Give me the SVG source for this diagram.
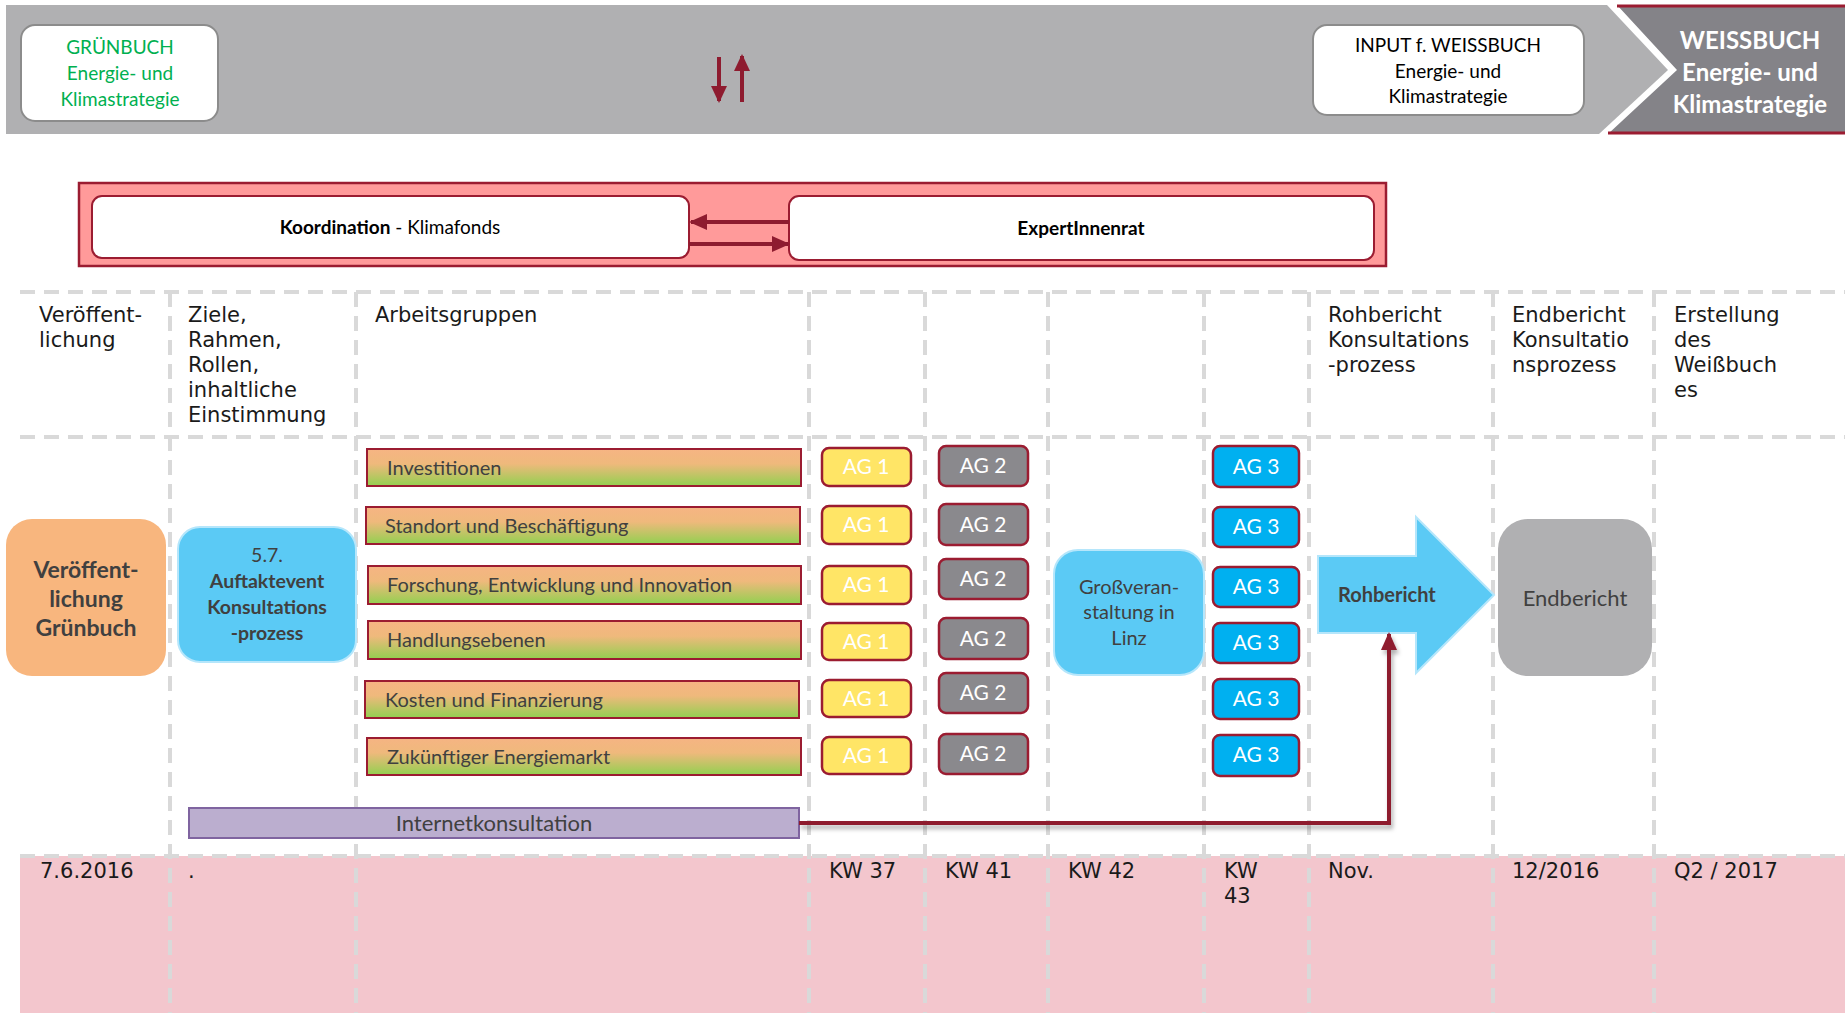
<svg xmlns="http://www.w3.org/2000/svg" width="1845" height="1013" viewBox="0 0 1845 1013">
<style>
.lato{font-family:Lato,"Open Sans","Liberation Sans",sans-serif}
.hdr{font-family:"DejaVu Sans","Liberation Sans",sans-serif;font-size:21px;fill:#1a1a1a}
.grid{stroke:#d9d9d9;stroke-width:4;stroke-dasharray:15 9;fill:none}
.bar{fill:url(#barGrad);stroke:#9b1c31;stroke-width:2}
.barTxt{font-family:Lato,"Liberation Sans",sans-serif;font-size:20px;fill:#404040}
.ag{stroke:#9b1c31;stroke-width:2.5}
.ag1{fill:#ffe566}
.ag2{fill:#8a898d}
.ag3{fill:#00b0f0}
.agTxt{font-family:Lato,"Liberation Sans",sans-serif;font-size:21px;fill:#ffffff;text-anchor:middle}
.conn{stroke:#8e1b2f;stroke-width:4;fill:none}
.lblue{fill:#5bcaf5;stroke:#b5e6fb;stroke-width:2}
.dark{font-family:Lato,"Liberation Sans",sans-serif;fill:#404040;text-anchor:middle}
</style>
<defs>
<linearGradient id="barGrad" x1="0" y1="0" x2="0" y2="1">
<stop offset="0" stop-color="#f6b483"/>
<stop offset="0.4" stop-color="#efb97c"/>
<stop offset="1" stop-color="#92d050"/>
</linearGradient>
<marker id="ah" markerUnits="userSpaceOnUse" markerWidth="18" markerHeight="16" refX="16" refY="8" orient="auto">
<path d="M0,0 L18,8 L0,16 Z" fill="#8e1b2f"/>
</marker>
<marker id="ahs" markerUnits="userSpaceOnUse" markerWidth="17" markerHeight="16" refX="15" refY="8" orient="auto">
<path d="M0,0 L17,8 L0,16 Z" fill="#8e1b2f"/>
</marker>
<filter id="sh" x="-5%" y="-50%" width="110%" height="200%">
<feDropShadow dx="2" dy="4" stdDeviation="2" flood-color="#000" flood-opacity="0.3"/>
</filter>
</defs>

<!-- background bands -->
<rect x="0" y="0" width="1845" height="1013" fill="#ffffff"/>
<polygon points="6,5 1607,5 1668,70 1599,134 6,134" fill="#b0b0b2"/>
<rect x="20" y="856" width="1825" height="157" fill="#f3c6cd"/>

<!-- grid -->
<g id="grid">
<line class="grid" x1="20" y1="292" x2="1845" y2="292"/>
<line class="grid" x1="20" y1="437" x2="1845" y2="437"/>
<line class="grid" x1="20" y1="856" x2="1845" y2="856"/>
<line class="grid" x1="170" y1="292" x2="170" y2="1013"/>
<line class="grid" x1="356" y1="292" x2="356" y2="1013"/>
<line class="grid" x1="809" y1="292" x2="809" y2="1013"/>
<line class="grid" x1="925" y1="292" x2="925" y2="1013"/>
<line class="grid" x1="1048" y1="292" x2="1048" y2="1013"/>
<line class="grid" x1="1204" y1="292" x2="1204" y2="1013"/>
<line class="grid" x1="1309" y1="292" x2="1309" y2="1013"/>
<line class="grid" x1="1493" y1="292" x2="1493" y2="1013"/>
<line class="grid" x1="1654" y1="292" x2="1654" y2="1013"/>
</g>

<!-- header texts -->
<g id="headers" class="hdr">
<text x="39" y="322">Veröffent-</text>
<text x="39" y="347">lichung</text>
<text x="188" y="322">Ziele,</text>
<text x="188" y="347">Rahmen,</text>
<text x="188" y="372">Rollen,</text>
<text x="188" y="397">inhaltliche</text>
<text x="188" y="422">Einstimmung</text>
<text x="375" y="322">Arbeitsgruppen</text>
<text x="1328" y="322">Rohbericht</text>
<text x="1328" y="347">Konsultations</text>
<text x="1328" y="372">-prozess</text>
<text x="1512" y="322">Endbericht</text>
<text x="1512" y="347">Konsultatio</text>
<text x="1512" y="372">nsprozess</text>
<text x="1674" y="322">Erstellung</text>
<text x="1674" y="347">des</text>
<text x="1674" y="372">Weißbuch</text>
<text x="1674" y="397">es</text>
</g>

<!-- dates -->
<g id="dates" class="hdr">
<text x="40" y="878">7.6.2016</text>
<text x="188" y="878">.</text>
<text x="829" y="878">KW 37</text>
<text x="945" y="878">KW 41</text>
<text x="1068" y="878">KW 42</text>
<text x="1224" y="878">KW</text>
<text x="1224" y="903">43</text>
<text x="1328" y="878">Nov.</text>
<text x="1512" y="878">12/2016</text>
<text x="1674" y="878">Q2 / 2017</text>
</g>

<!-- top band nodes -->
<g id="gruenbuch">
<rect x="21" y="25" width="197" height="96" rx="14" fill="#ffffff" stroke="#8c8c8c" stroke-width="2"/>
<text class="lato" font-size="19" fill="#00b050" text-anchor="middle"><tspan x="120" y="54">GRÜNBUCH</tspan><tspan x="120" y="80">Energie- und</tspan><tspan x="120" y="106">Klimastrategie</tspan></text>
</g>
<g id="input-weissbuch">
<rect x="1313" y="25" width="271" height="90" rx="14" fill="#ffffff" stroke="#8c8c8c" stroke-width="2"/>
<text class="lato" font-size="19" fill="#000000" text-anchor="middle"><tspan x="1448" y="52">INPUT f. WEISSBUCH</tspan><tspan x="1448" y="78">Energie- und</tspan><tspan x="1448" y="103">Klimastrategie</tspan></text>
</g>
<g id="weissbuch">
<polygon points="1617,5 1845,5 1845,134 1608,134 1677,70" fill="#848388"/>
<line x1="1617" y1="6" x2="1845" y2="6" stroke="#9b1c31" stroke-width="3"/>
<line x1="1608" y1="133" x2="1845" y2="133" stroke="#9b1c31" stroke-width="3"/>
<text class="lato" font-size="24" font-weight="bold" fill="#ffffff" text-anchor="middle"><tspan x="1750" y="49">WEISSBUCH</tspan><tspan x="1750" y="81">Energie- und</tspan><tspan x="1750" y="113">Klimastrategie</tspan></text>
</g>

<!-- coordination -->
<g id="koordination-rahmen">
<rect x="79" y="183" width="1307" height="83" fill="#ff9a9a" stroke="#9b1c31" stroke-width="2.5"/>
</g>
<g id="koordination">
<rect x="92" y="196" width="597" height="62" rx="10" fill="#ffffff" stroke="#9b1c31" stroke-width="2"/>
<text class="lato" font-size="19" fill="#000000" text-anchor="middle" x="390" y="234"><tspan font-weight="bold">Koordination</tspan> - Klimafonds</text>
</g>
<g id="expertinnenrat">
<rect x="789" y="196" width="585" height="64" rx="10" fill="#ffffff" stroke="#9b1c31" stroke-width="2"/>
<text class="lato" font-size="19" font-weight="bold" fill="#000000" text-anchor="middle" x="1081" y="235">ExpertInnenrat</text>
</g>

<!-- left nodes -->
<g id="veroeffentlichung">
<rect x="6" y="519" width="160" height="157" rx="26" fill="#f8b67e"/>
<text class="dark" font-size="23" font-weight="bold"><tspan x="86" y="578">Veröffent-</tspan><tspan x="86" y="607">lichung</tspan><tspan x="86" y="636">Grünbuch</tspan></text>
</g>
<g id="auftaktevent">
<rect class="lblue" x="178" y="527" width="178" height="135" rx="22"/>
<text class="dark" font-size="19.5"><tspan x="267" y="562">5.7.</tspan><tspan x="267" y="588" font-weight="bold">Auftaktevent</tspan><tspan x="267" y="614" font-weight="bold">Konsultations</tspan><tspan x="267" y="640" font-weight="bold">-prozess</tspan></text>
</g>

<!-- bars -->
<g id="bar-investitionen"><rect class="bar" x="367" y="449" width="434" height="37"/><text class="barTxt" x="387" y="475">Investitionen</text></g>
<g id="bar-standort"><rect class="bar" x="366" y="507" width="434" height="37"/><text class="barTxt" x="385" y="533">Standort und Beschäftigung</text></g>
<g id="bar-forschung"><rect class="bar" x="368" y="566" width="433" height="38"/><text class="barTxt" x="387" y="592">Forschung, Entwicklung und Innovation</text></g>
<g id="bar-handlung"><rect class="bar" x="368" y="621" width="433" height="38"/><text class="barTxt" x="387" y="647">Handlungsebenen</text></g>
<g id="bar-kosten"><rect class="bar" x="365" y="681" width="434" height="37"/><text class="barTxt" x="385" y="707">Kosten und Finanzierung</text></g>
<g id="bar-energiemarkt"><rect class="bar" x="367" y="738" width="434" height="37"/><text class="barTxt" x="387" y="764">Zukünftiger Energiemarkt</text></g>

<g id="internetkonsultation">
<rect x="189" y="808" width="610" height="30" fill="#bbaecf" stroke="#7f64a0" stroke-width="2"/>
<text class="dark" font-size="22" x="494" y="831">Internetkonsultation</text>
</g>

<!-- AG 1 -->
<g id="ag1-1"><rect class="ag ag1" x="822" y="448" width="89" height="38" rx="7"/><text class="agTxt" x="866" y="474">AG 1</text></g>
<g id="ag1-2"><rect class="ag ag1" x="822" y="506" width="89" height="38" rx="7"/><text class="agTxt" x="866" y="532">AG 1</text></g>
<g id="ag1-3"><rect class="ag ag1" x="822" y="566" width="89" height="38" rx="7"/><text class="agTxt" x="866" y="592">AG 1</text></g>
<g id="ag1-4"><rect class="ag ag1" x="822" y="623" width="89" height="37" rx="7"/><text class="agTxt" x="866" y="649">AG 1</text></g>
<g id="ag1-5"><rect class="ag ag1" x="822" y="680" width="89" height="37" rx="7"/><text class="agTxt" x="866" y="706">AG 1</text></g>
<g id="ag1-6"><rect class="ag ag1" x="822" y="737" width="89" height="37" rx="7"/><text class="agTxt" x="866" y="763">AG 1</text></g>

<!-- AG 2 -->
<g id="ag2-1"><rect class="ag ag2" x="939" y="446" width="89" height="40" rx="7"/><text class="agTxt" x="983" y="473">AG 2</text></g>
<g id="ag2-2"><rect class="ag ag2" x="939" y="504" width="89" height="41" rx="7"/><text class="agTxt" x="983" y="532">AG 2</text></g>
<g id="ag2-3"><rect class="ag ag2" x="939" y="559" width="89" height="40" rx="7"/><text class="agTxt" x="983" y="586">AG 2</text></g>
<g id="ag2-4"><rect class="ag ag2" x="939" y="618" width="89" height="41" rx="7"/><text class="agTxt" x="983" y="646">AG 2</text></g>
<g id="ag2-5"><rect class="ag ag2" x="939" y="673" width="89" height="40" rx="7"/><text class="agTxt" x="983" y="700">AG 2</text></g>
<g id="ag2-6"><rect class="ag ag2" x="939" y="734" width="89" height="40" rx="7"/><text class="agTxt" x="983" y="761">AG 2</text></g>

<!-- AG 3 -->
<g id="ag3-1"><rect class="ag ag3" x="1213" y="446" width="86" height="41" rx="7"/><text class="agTxt" x="1256" y="474">AG 3</text></g>
<g id="ag3-2"><rect class="ag ag3" x="1213" y="507" width="86" height="40" rx="7"/><text class="agTxt" x="1256" y="534">AG 3</text></g>
<g id="ag3-3"><rect class="ag ag3" x="1213" y="567" width="86" height="40" rx="7"/><text class="agTxt" x="1256" y="594">AG 3</text></g>
<g id="ag3-4"><rect class="ag ag3" x="1213" y="623" width="86" height="40" rx="7"/><text class="agTxt" x="1256" y="650">AG 3</text></g>
<g id="ag3-5"><rect class="ag ag3" x="1213" y="679" width="86" height="40" rx="7"/><text class="agTxt" x="1256" y="706">AG 3</text></g>
<g id="ag3-6"><rect class="ag ag3" x="1213" y="735" width="86" height="41" rx="7"/><text class="agTxt" x="1256" y="762">AG 3</text></g>

<g id="linz">
<rect class="lblue" x="1054" y="550" width="150" height="125" rx="24"/>
<text class="dark" font-size="20"><tspan x="1129" y="594">Großveran-</tspan><tspan x="1129" y="619">staltung in</tspan><tspan x="1129" y="645">Linz</tspan></text>
</g>

<g id="rohbericht">
<polygon class="lblue" points="1318,556 1416,556 1416,517 1494,595 1416,673 1416,633 1318,633"/>
<text class="lato" font-size="20" font-weight="bold" fill="#404040" x="1338" y="602">Rohbericht</text>
</g>

<g id="endbericht">
<rect x="1498" y="519" width="154" height="157" rx="30" fill="#b0b0b2"/>
<text class="dark" font-size="22" x="1575" y="606">Endbericht</text>
</g>

<!-- connectors -->
<g id="connectors">
<line class="conn" x1="719" y1="57" x2="719" y2="101" stroke-width="4" marker-end="url(#ahs)"/>
<line class="conn" x1="742" y1="102" x2="742" y2="56" stroke-width="4" marker-end="url(#ahs)"/>
<line class="conn" x1="789" y1="222" x2="691" y2="222" marker-end="url(#ah)"/>
<line class="conn" x1="689" y1="244" x2="788" y2="244" marker-end="url(#ah)"/>
<polyline class="conn" points="799,823 1389,823 1389,634" stroke-width="3.5" filter="url(#sh)" marker-end="url(#ah)"/>
</g>
</svg>
